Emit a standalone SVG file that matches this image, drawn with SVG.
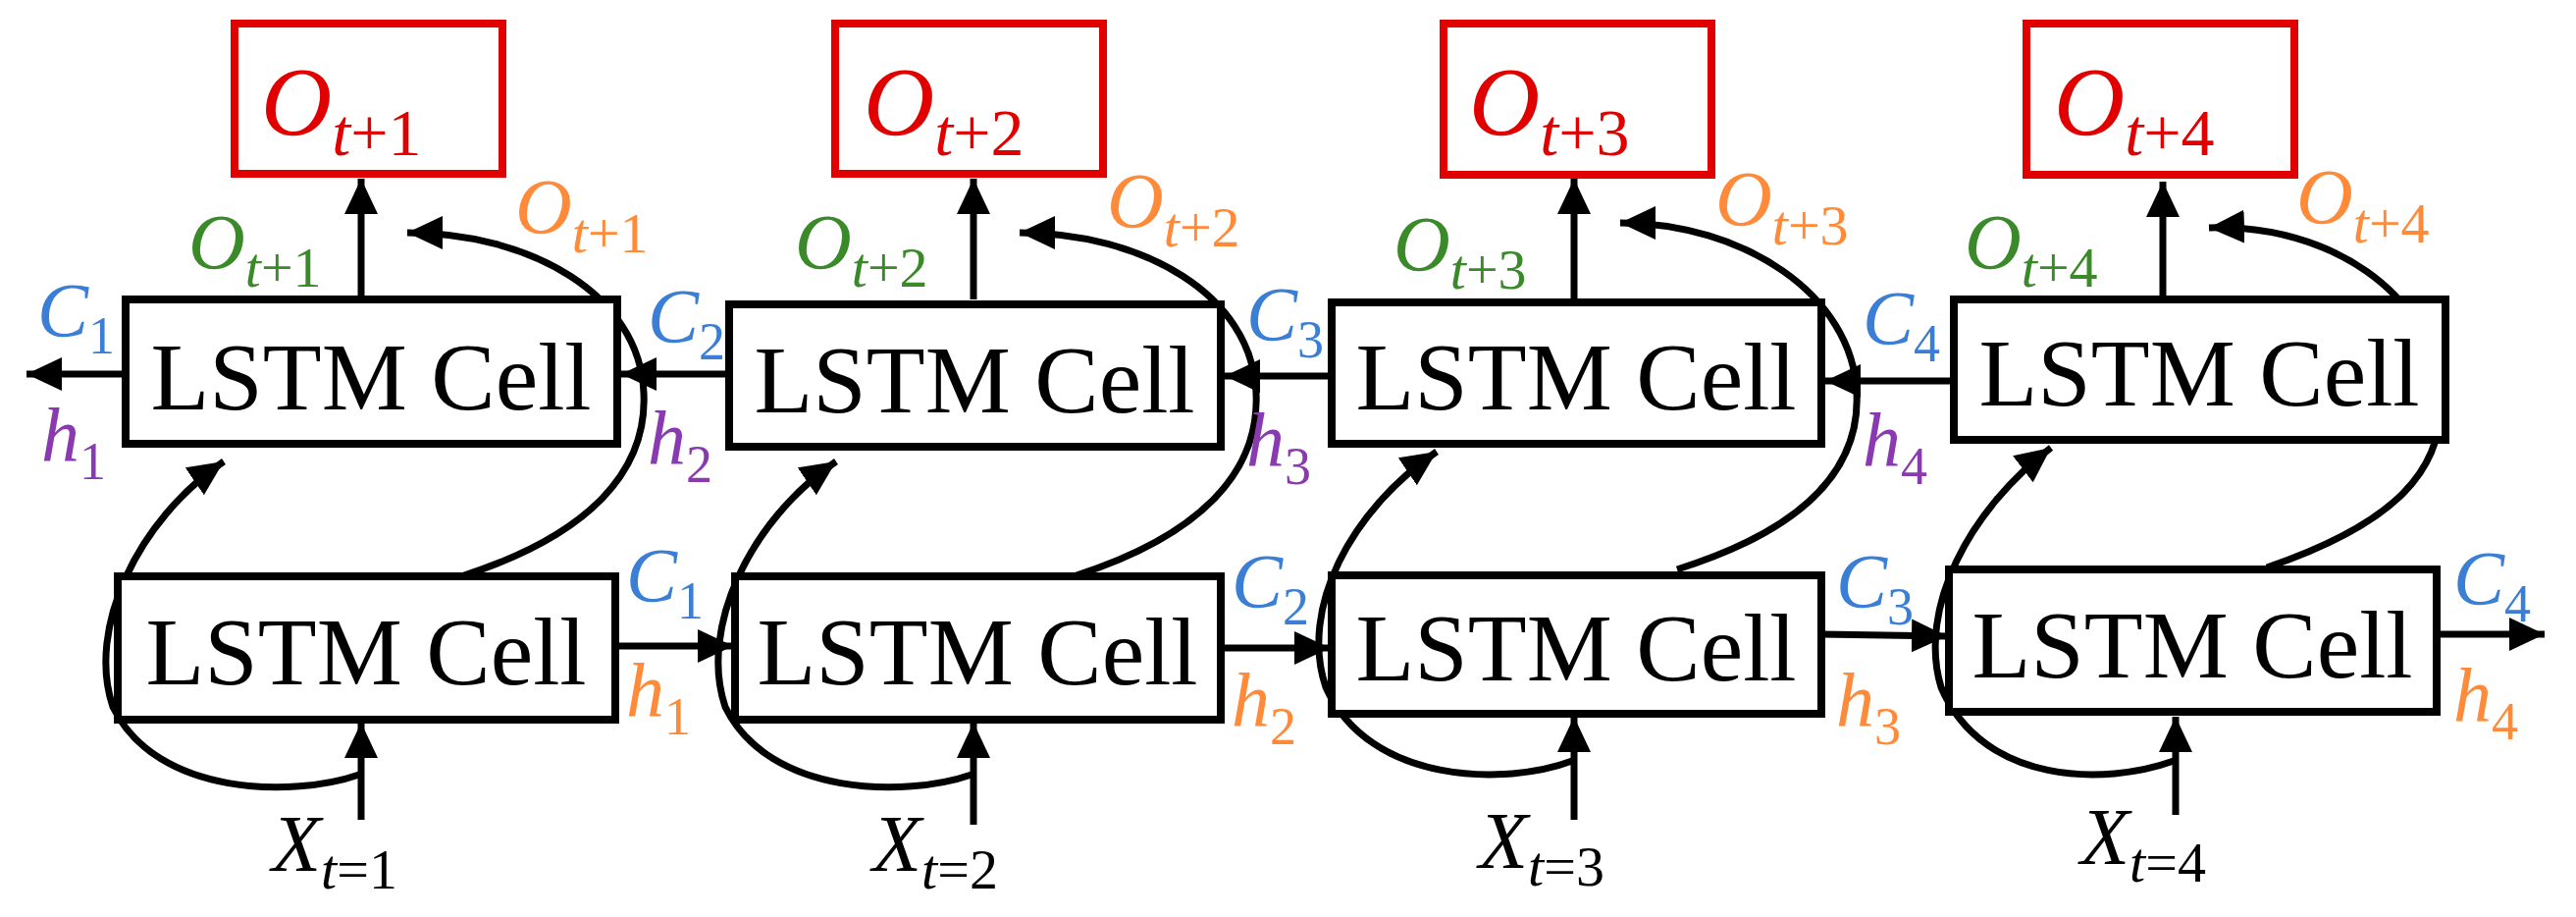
<svg xmlns="http://www.w3.org/2000/svg" width="2625" height="934" viewBox="0 0 2625 934">
<style>
.cell{fill:#fff;stroke:#000;stroke-width:8}
.out{fill:#fff;stroke:#e00000;stroke-width:8}
.ct{font-family:"Liberation Serif",serif;font-size:98px;fill:#000}
.m{font-family:"Liberation Serif",serif;font-style:italic}
.u{font-style:normal}
.ln{fill:none;stroke:#000;stroke-width:7}
.red{fill:#e00000}.grn{fill:#3a8a2a}.org{fill:#ff8a3a}.blu{fill:#3a7fd5}.pur{fill:#8a3ab0}.blk{fill:#000}
</style>
<defs>
<marker id="ah" markerUnits="userSpaceOnUse" markerWidth="40" markerHeight="36" refX="36" refY="17" orient="auto">
<path d="M0,0 L36,17 L0,34 Z" fill="#000"/>
</marker>
</defs>
<rect width="2625" height="934" fill="#fff"/>

<g id="connectors">
<!-- top chain leftwards -->
<line class="ln" x1="128" y1="381" x2="27" y2="381" marker-end="url(#ah)"/>
<line class="ln" x1="743" y1="381" x2="633" y2="381" marker-end="url(#ah)"/>
<line class="ln" x1="1357" y1="383" x2="1248" y2="383" marker-end="url(#ah)"/>
<line class="ln" x1="1991" y1="388" x2="1860" y2="388" marker-end="url(#ah)"/>
<!-- bottom chain rightwards -->
<line class="ln" x1="627" y1="658" x2="747" y2="658" marker-end="url(#ah)"/>
<line class="ln" x1="1244" y1="660" x2="1355" y2="660" marker-end="url(#ah)"/>
<line class="ln" x1="1856" y1="646" x2="1984" y2="648" marker-end="url(#ah)"/>
<line class="ln" x1="2483" y1="646" x2="2593" y2="646" marker-end="url(#ah)"/>
<g transform="translate(0,0)">
<line class="ln" x1="368" y1="305" x2="368" y2="182" marker-end="url(#ah)"/>
<path class="ln" d="M473,586 C600,545 660,480 656,400 C652,300 540,237 415,237" marker-end="url(#ah)"/>
<line class="ln" x1="368" y1="835" x2="368" y2="736" marker-end="url(#ah)"/>
<path class="ln" d="M366,789 C300,812 160,812 115,720 C88,640 140,530 228,470" marker-end="url(#ah)"/>
</g>
<g transform="translate(624,0)">
<line class="ln" x1="368" y1="305" x2="368" y2="182" marker-end="url(#ah)"/>
<path class="ln" d="M473,586 C600,545 660,480 656,400 C652,300 540,237 415,237" marker-end="url(#ah)"/>
<line class="ln" x1="368" y1="840" x2="368" y2="736" marker-end="url(#ah)"/>
<path class="ln" d="M366,789 C300,812 160,812 115,720 C88,640 140,530 228,470" marker-end="url(#ah)"/>
</g>
<g transform="translate(1236,0)">
<line class="ln" x1="368" y1="305" x2="368" y2="182" marker-end="url(#ah)"/>
<path class="ln" d="M473,580 C600,540 660,480 656,400 C652,300 540,227 415,227" marker-end="url(#ah)"/>
<line class="ln" x1="368" y1="835" x2="368" y2="730" marker-end="url(#ah)"/>
<path class="ln" d="M366,775 C300,800 160,800 115,700 C88,620 140,520 228,460" marker-end="url(#ah)"/>
</g>
<g transform="translate(1836,0)">
<line class="ln" x1="368" y1="302" x2="368" y2="185" marker-end="url(#ah)"/>
<path class="ln" d="M474,578 C600,535 660,480 650,395 C640,300 540,228 415,232" marker-end="url(#ah)"/>
<line class="ln" x1="381" y1="830" x2="381" y2="730" marker-end="url(#ah)"/>
<path class="ln" d="M379,775 C310,800 185,800 142,700 C118,620 170,520 254,456" marker-end="url(#ah)"/>
</g>
</g>

<!-- column 1 -->
<g id="out1"><rect class="out" x="239" y="24" width="273" height="153"/><text class="m red" x="266" y="137" font-size="100">O<tspan font-size="68" dy="21">t<tspan class="u">+1</tspan></tspan></text></g>
<g id="top1"><rect class="cell" x="128" y="305" width="501" height="147"/><text class="ct" x="378" y="417" text-anchor="middle">LSTM Cell</text></g>
<g id="bot1"><rect class="cell" x="120" y="587" width="507" height="146"/><text class="ct" x="373" y="697" text-anchor="middle">LSTM Cell</text></g>
<!-- column 2 -->
<g id="out2"><rect class="out" x="851" y="24" width="273" height="153"/><text class="m red" x="880" y="137" font-size="100">O<tspan font-size="68" dy="21">t<tspan class="u">+2</tspan></tspan></text></g>
<g id="top2"><rect class="cell" x="743" y="310" width="501" height="145"/><text class="ct" x="993" y="420" text-anchor="middle">LSTM Cell</text></g>
<g id="bot2"><rect class="cell" x="749" y="587" width="495" height="146"/><text class="ct" x="996" y="697" text-anchor="middle">LSTM Cell</text></g>
<!-- column 3 -->
<g id="out3"><rect class="out" x="1471" y="24" width="273" height="154"/><text class="m red" x="1497" y="137" font-size="100">O<tspan font-size="68" dy="21">t<tspan class="u">+3</tspan></tspan></text></g>
<g id="top3"><rect class="cell" x="1357" y="308" width="499" height="144"/><text class="ct" x="1606" y="417" text-anchor="middle">LSTM Cell</text></g>
<g id="bot3"><rect class="cell" x="1357" y="586" width="499" height="141"/><text class="ct" x="1606" y="693" text-anchor="middle">LSTM Cell</text></g>
<!-- column 4 -->
<g id="out4"><rect class="out" x="2065" y="24" width="273" height="154"/><text class="m red" x="2093" y="137" font-size="100">O<tspan font-size="68" dy="21">t<tspan class="u">+4</tspan></tspan></text></g>
<g id="top4"><rect class="cell" x="1991" y="305" width="501" height="143"/><text class="ct" x="2241" y="413" text-anchor="middle">LSTM Cell</text></g>
<g id="bot4"><rect class="cell" x="1986" y="580" width="497" height="145"/><text class="ct" x="2234" y="690" text-anchor="middle">LSTM Cell</text></g>

<g id="labels">
<!-- green and orange O -->
<text class="m grn" x="192" y="274" font-size="80">O<tspan font-size="58" dy="18">t<tspan class="u">+1</tspan></tspan></text>
<text class="m org" x="525" y="238" font-size="80">O<tspan font-size="58" dy="19">t<tspan class="u">+1</tspan></tspan></text>
<text class="m grn" x="810" y="274" font-size="80">O<tspan font-size="58" dy="18">t<tspan class="u">+2</tspan></tspan></text>
<text class="m org" x="1128" y="232" font-size="80">O<tspan font-size="58" dy="19">t<tspan class="u">+2</tspan></tspan></text>
<text class="m grn" x="1420" y="276" font-size="80">O<tspan font-size="58" dy="18">t<tspan class="u">+3</tspan></tspan></text>
<text class="m org" x="1748" y="230" font-size="80">O<tspan font-size="58" dy="19">t<tspan class="u">+3</tspan></tspan></text>
<text class="m grn" x="2002" y="274" font-size="80">O<tspan font-size="58" dy="18">t<tspan class="u">+4</tspan></tspan></text>
<text class="m org" x="2340" y="228" font-size="80">O<tspan font-size="58" dy="19">t<tspan class="u">+4</tspan></tspan></text>
<!-- top C/h -->
<text class="m blu" x="38" y="342" font-size="78">C<tspan class="u" font-size="54" dy="18">1</tspan></text>
<text class="m pur" x="42" y="470" font-size="78">h<tspan class="u" font-size="54" dy="18">1</tspan></text>
<text class="m blu" x="660" y="348" font-size="78">C<tspan class="u" font-size="54" dy="18">2</tspan></text>
<text class="m pur" x="660" y="473" font-size="78">h<tspan class="u" font-size="54" dy="18">2</tspan></text>
<text class="m blu" x="1270" y="346" font-size="78">C<tspan class="u" font-size="54" dy="18">3</tspan></text>
<text class="m pur" x="1270" y="475" font-size="78">h<tspan class="u" font-size="54" dy="18">3</tspan></text>
<text class="m blu" x="1898" y="350" font-size="78">C<tspan class="u" font-size="54" dy="18">4</tspan></text>
<text class="m pur" x="1898" y="475" font-size="78">h<tspan class="u" font-size="54" dy="18">4</tspan></text>
<!-- bottom C/h -->
<text class="m blu" x="638" y="612" font-size="78">C<tspan class="u" font-size="54" dy="18">1</tspan></text>
<text class="m org" x="638" y="730" font-size="78">h<tspan class="u" font-size="54" dy="18">1</tspan></text>
<text class="m blu" x="1255" y="618" font-size="78">C<tspan class="u" font-size="54" dy="18">2</tspan></text>
<text class="m org" x="1255" y="740" font-size="78">h<tspan class="u" font-size="54" dy="18">2</tspan></text>
<text class="m blu" x="1871" y="618" font-size="78">C<tspan class="u" font-size="54" dy="18">3</tspan></text>
<text class="m org" x="1871" y="740" font-size="78">h<tspan class="u" font-size="54" dy="18">3</tspan></text>
<text class="m blu" x="2500" y="615" font-size="78">C<tspan class="u" font-size="54" dy="18">4</tspan></text>
<text class="m org" x="2500" y="735" font-size="78">h<tspan class="u" font-size="54" dy="18">4</tspan></text>
<!-- X -->
<text class="m blk" x="277" y="887" font-size="82">X<tspan font-size="58" dy="18">t<tspan class="u">=1</tspan></tspan></text>
<text class="m blk" x="889" y="887" font-size="82">X<tspan font-size="58" dy="18">t<tspan class="u">=2</tspan></tspan></text>
<text class="m blk" x="1507" y="884" font-size="82">X<tspan font-size="58" dy="18">t<tspan class="u">=3</tspan></tspan></text>
<text class="m blk" x="2120" y="880" font-size="82">X<tspan font-size="58" dy="18">t<tspan class="u">=4</tspan></tspan></text>
</g>
</svg>
